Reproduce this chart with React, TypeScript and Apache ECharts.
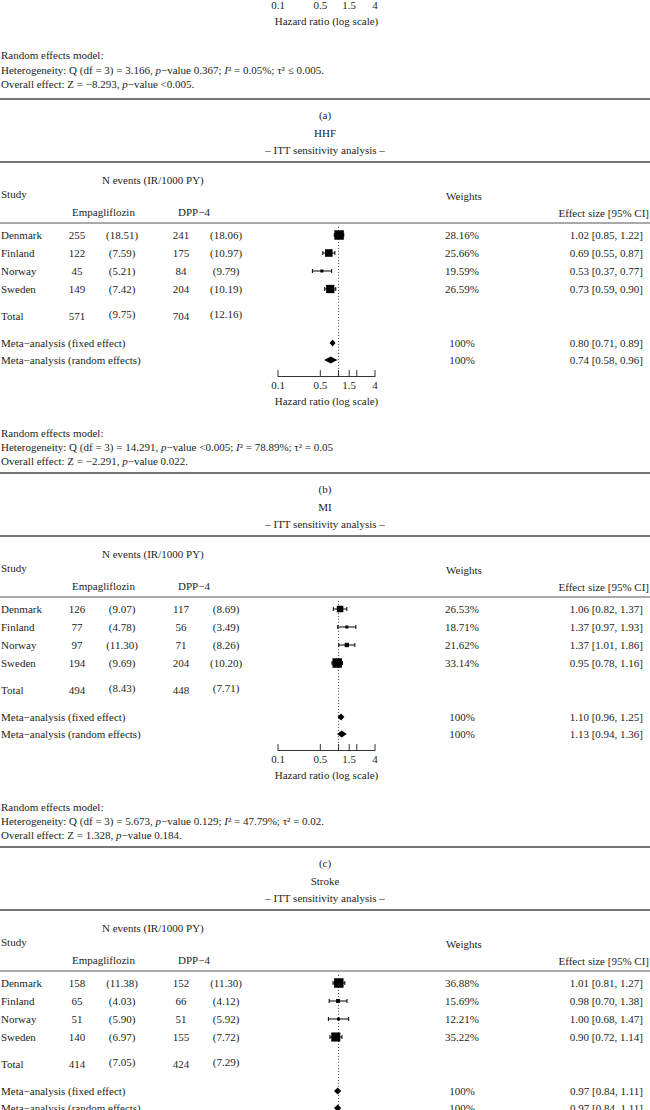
import React, { useEffect, useRef } from 'react';
import * as echarts from 'echarts';

const FONT = '"Liberation Serif", "Times New Roman", serif';
const INK = '#231f20';
const FS = 11;

const countries = ['Denmark', 'Finland', 'Norway', 'Sweden'];
const outcomes = ['HHF', 'MI', 'Stroke'];
const panelLabels = ['(a)', '(b)', '(c)'];

// HHF
const hhfEmpN = [255, 122, 45, 149];
const hhfEmpIR = [18.51, 7.59, 5.21, 7.42];
const hhfDppN = [241, 175, 84, 204];
const hhfDppIR = [18.06, 10.97, 9.79, 10.19];
const hhfTotal = [571, 9.75, 704, 12.16];
const hhfWeights = [28.16, 25.66, 19.59, 26.59];
const hhfHR = [1.02, 0.69, 0.53, 0.73];
const hhfLo = [0.85, 0.55, 0.37, 0.59];
const hhfHi = [1.22, 0.87, 0.77, 0.9];
const hhfFixed = [0.8, 0.71, 0.89];
const hhfRandom = [0.74, 0.58, 0.96];
const hhfHet = 'Heterogeneity: Q (df = 3) = 14.291, {i|p}−value <0.005; {i|I}² = 78.89%; τ² = 0.05';
const hhfOverall = 'Overall effect: Z = −2.291, {i|p}−value 0.022.';

// MI
const miEmpN = [126, 77, 97, 194];
const miEmpIR = [9.07, 4.78, 11.3, 9.69];
const miDppN = [117, 56, 71, 204];
const miDppIR = [8.69, 3.49, 8.26, 10.2];
const miTotal = [494, 8.43, 448, 7.71];
const miWeights = [26.53, 18.71, 21.62, 33.14];
const miHR = [1.06, 1.37, 1.37, 0.95];
const miLo = [0.82, 0.97, 1.01, 0.78];
const miHi = [1.37, 1.93, 1.86, 1.16];
const miFixed = [1.1, 0.96, 1.25];
const miRandom = [1.13, 0.94, 1.36];
const miHet = 'Heterogeneity: Q (df = 3) = 5.673, {i|p}−value 0.129; {i|I}² = 47.79%; τ² = 0.02.';
const miOverall = 'Overall effect: Z = 1.328, {i|p}−value 0.184.';

// Stroke
const stEmpN = [158, 65, 51, 140];
const stEmpIR = [11.38, 4.03, 5.9, 6.97];
const stDppN = [152, 66, 51, 155];
const stDppIR = [11.3, 4.12, 5.92, 7.72];
const stTotal = [414, 7.05, 424, 7.29];
const stWeights = [36.88, 15.69, 12.21, 35.22];
const stHR = [1.01, 0.98, 1.0, 0.9];
const stLo = [0.81, 0.7, 0.68, 0.72];
const stHi = [1.27, 1.38, 1.47, 1.14];
const stFixed = [0.97, 0.84, 1.11];
const stRandom = [0.97, 0.84, 1.11];

// Panel (top, cut) statistics
const topHet = 'Heterogeneity: Q (df = 3) = 3.166, {i|p}−value 0.367; {i|I}² = 0.05%; τ² ≤ 0.005.';
const topOverall = 'Overall effect: Z = −8.293, {i|p}−value <0.005.';

const tickValues = [0.1, 0.5, 1, 1.5, 2, 4];
const tickLabels = ['0.1', '0.5', '', '1.5', '', '4'];

const panels = [
  { empN: hhfEmpN, empIR: hhfEmpIR, dppN: hhfDppN, dppIR: hhfDppIR, total: hhfTotal, w: hhfWeights, hr: hhfHR, lo: hhfLo, hi: hhfHi, fixed: hhfFixed, random: hhfRandom, het: hhfHet, overall: hhfOverall },
  { empN: miEmpN, empIR: miEmpIR, dppN: miDppN, dppIR: miDppIR, total: miTotal, w: miWeights, hr: miHR, lo: miLo, hi: miHi, fixed: miFixed, random: miRandom, het: miHet, overall: miOverall },
  { empN: stEmpN, empIR: stEmpIR, dppN: stDppN, dppIR: stDppIR, total: stTotal, w: stWeights, hr: stHR, lo: stLo, hi: stHi, fixed: stFixed, random: stRandom, het: '', overall: '' },
];

// Layout
const W = 650;
const R = [162, 536, 910];
const ROW0 = 73;
const UNIT = 9;
const studySlots = [0, 2, 4, 6];
const TOTAL_SLOT = 9;
const FIXED_SLOT = 12;
const RANDOM_SLOT = 13.9;
const Y_MIN = -1.3;
const Y_MAX = 15.67;
const slotY = (r: number, s: number) => r + ROW0 + s * UNIT;

const RICH = {
  i: { fontStyle: 'italic', fontFamily: FONT, fontSize: FS, fill: INK, textFill: INK },
};

function txt(x: number, y: number, text: string, align = 'left'): any {
  return {
    type: 'text',
    x,
    y,
    silent: true,
    style: {
      text,
      fill: INK,
      fontFamily: FONT,
      fontSize: FS,
      align,
      verticalAlign: 'middle',
      textAlign: align,
      textVerticalAlign: 'middle',
      rich: RICH,
    },
  };
}

function rule(y: number, thick: boolean): any {
  return {
    type: 'line',
    silent: true,
    shape: { x1: 0, y1: y, x2: W, y2: y },
    style: { stroke: thick ? '#767676' : '#555', lineWidth: thick ? 2 : 1 },
  };
}

const f2 = (v: number) => v.toFixed(2);

function buildGraphics(): any[] {
  const g: any[] = [];
  g.push(txt(1, 55, 'Random effects model:'));
  g.push(txt(1, 70, topHet));
  g.push(txt(1, 84, topOverall));
  panels.forEach((p, k) => {
    const r = R[k];
    g.push(rule(r - 63, true));
    g.push(txt(325, r - 47, panelLabels[k], 'center'));
    g.push(txt(325, r - 29, outcomes[k], 'center'));
    g.push(txt(325, r - 12, '– ITT sensitivity analysis –', 'center'));
    g.push(rule(r, true));
    g.push(txt(102, r + 18, 'N events (IR/1000 PY)'));
    g.push(txt(1, r + 32, 'Study'));
    g.push(txt(464, r + 34, 'Weights', 'center'));
    g.push(txt(72, r + 50, 'Empagliflozin'));
    g.push(txt(178, r + 50, 'DPP−4'));
    g.push(txt(649, r + 51, 'Effect size [95% CI]', 'right'));
    g.push(rule(r + 61, false));
    countries.forEach((c, i) => {
      const y = slotY(r, studySlots[i]);
      g.push(txt(1, y, c));
      g.push(txt(77, y, String(p.empN[i]), 'center'));
      g.push(txt(122, y, `(${f2(p.empIR[i])})`, 'center'));
      g.push(txt(181, y, String(p.dppN[i]), 'center'));
      g.push(txt(226, y, `(${f2(p.dppIR[i])})`, 'center'));
      g.push(txt(462, y, `${f2(p.w[i])}%`, 'center'));
      g.push(txt(643, y, `${f2(p.hr[i])} [${f2(p.lo[i])}, ${f2(p.hi[i])}]`, 'right'));
    });
    const yt = slotY(r, TOTAL_SLOT);
    g.push(txt(1, yt, 'Total'));
    g.push(txt(77, yt, String(p.total[0]), 'center'));
    g.push(txt(122, yt - 2, `(${f2(p.total[1])})`, 'center'));
    g.push(txt(181, yt, String(p.total[2]), 'center'));
    g.push(txt(226, yt - 2, `(${f2(p.total[3])})`, 'center'));
    const yf = slotY(r, FIXED_SLOT);
    g.push(txt(1, yf, 'Meta−analysis (fixed effect)'));
    g.push(txt(462, yf, '100%', 'center'));
    g.push(txt(643, yf, `${f2(p.fixed[0])} [${f2(p.fixed[1])}, ${f2(p.fixed[2])}]`, 'right'));
    const yr = slotY(r, RANDOM_SLOT);
    g.push(txt(1, yr, 'Meta−analysis (random effects)'));
    g.push(txt(462, yr, '100%', 'center'));
    g.push(txt(643, yr, `${f2(p.random[0])} [${f2(p.random[1])}, ${f2(p.random[2])}]`, 'right'));
    if (p.het) {
      g.push(txt(1, r + 271, 'Random effects model:'));
      g.push(txt(1, r + 285, p.het));
      g.push(txt(1, r + 299, p.overall));
    }
  });
  return g;
}

function tickSeries(idx: number, yBottom: number): any {
  return {
    type: 'custom',
    xAxisIndex: idx,
    yAxisIndex: idx,
    silent: true,
    clip: false,
    data: tickValues.map((v) => [v, yBottom]),
    renderItem: (params: any, api: any) => {
      const p = api.coord([api.value(0), api.value(1)]);
      const label = tickLabels[params.dataIndex];
      const children: any[] = [
        { type: 'line', shape: { x1: p[0], y1: p[1], x2: p[0], y2: p[1] - 6 }, style: { stroke: '#333', lineWidth: 1 } },
      ];
      if (label) {
        children.push({
          type: 'text',
          x: p[0],
          y: p[1] + 9,
          style: { text: label, fill: INK, fontFamily: FONT, fontSize: FS, align: 'center', verticalAlign: 'middle', textAlign: 'center', textVerticalAlign: 'middle' },
        });
      }
      return { type: 'group', children };
    },
  };
}

function studySeries(idx: number, p: any): any {
  const wmin = Math.min(...p.w);
  const wmax = Math.max(...p.w);
  return {
    type: 'custom',
    xAxisIndex: idx,
    yAxisIndex: idx,
    silent: true,
    clip: false,
    data: p.hr.map((v: number, i: number) => [v, studySlots[i], p.lo[i], p.hi[i], p.w[i]]),
    renderItem: (params: any, api: any) => {
      const c = api.coord([api.value(0), api.value(1)]);
      const a = api.coord([api.value(2), api.value(1)]);
      const b = api.coord([api.value(3), api.value(1)]);
      const w = api.value(4);
      const s = 3 + ((w - wmin) / (wmax - wmin)) * 6.5;
      const st = { stroke: '#000', lineWidth: 1 };
      return {
        type: 'group',
        children: [
          { type: 'line', shape: { x1: a[0], y1: c[1], x2: b[0], y2: c[1] }, style: st },
          { type: 'line', shape: { x1: a[0], y1: c[1] - 2, x2: a[0], y2: c[1] + 2 }, style: st },
          { type: 'line', shape: { x1: b[0], y1: c[1] - 2, x2: b[0], y2: c[1] + 2 }, style: st },
          { type: 'rect', shape: { x: c[0] - s / 2, y: c[1] - s / 2, width: s, height: s }, style: { fill: '#000' } },
        ],
      };
    },
  };
}

function diamondSeries(idx: number, p: any): any {
  return {
    type: 'custom',
    xAxisIndex: idx,
    yAxisIndex: idx,
    silent: true,
    clip: false,
    data: [
      [p.fixed[0], FIXED_SLOT, p.fixed[1], p.fixed[2]],
      [p.random[0], RANDOM_SLOT, p.random[1], p.random[2]],
    ],
    renderItem: (params: any, api: any) => {
      const c = api.coord([api.value(0), api.value(1)]);
      const a = api.coord([api.value(2), api.value(1)]);
      const b = api.coord([api.value(3), api.value(1)]);
      return {
        type: 'polygon',
        shape: { points: [[a[0], c[1]], [c[0], c[1] - 3.5], [b[0], c[1]], [c[0], c[1] + 3.5]] },
        style: { fill: '#000' },
      };
    },
  };
}

function refLineSeries(idx: number): any {
  return {
    type: 'custom',
    xAxisIndex: idx,
    yAxisIndex: idx,
    silent: true,
    clip: false,
    data: [[1, Y_MAX]],
    renderItem: (params: any, api: any) => {
      const t = api.coord([api.value(0), -0.9]);
      const b = api.coord([api.value(0), api.value(1)]);
      return {
        type: 'line',
        shape: { x1: t[0], y1: t[1], x2: b[0], y2: b[1] },
        style: { stroke: '#444', lineWidth: 1, lineDash: [1, 2] },
      };
    },
  };
}

function xAxisDef(idx: number): any {
  return {
    type: 'log',
    logBase: 10,
    gridIndex: idx,
    min: 0.1,
    max: 4,
    axisLine: { show: true, onZero: false, lineStyle: { color: '#333', width: 1 } },
    axisTick: { show: false },
    axisLabel: { show: false },
    splitLine: { show: false },
    name: 'Hazard ratio (log scale)',
    nameLocation: 'middle',
    nameGap: 19,
    nameTextStyle: { fontFamily: FONT, fontSize: FS, color: INK },
  };
}

function gridDef(top: number, height: number): any {
  return { left: 278, width: 97, top, height, containLabel: false, outerBoundsMode: 'none' };
}

function buildOption(): any {
  const grids: any[] = [gridDef(-40, 36)];
  const xAxes: any[] = [xAxisDef(0)];
  const yAxes: any[] = [{ type: 'value', gridIndex: 0, min: 0, max: 1, inverse: true, show: false }];
  const series: any[] = [tickSeries(0, 1)];
  R.forEach((r, k) => {
    const idx = k + 1;
    grids.push(gridDef(slotY(r, Y_MIN), (Y_MAX - Y_MIN) * UNIT));
    xAxes.push(xAxisDef(idx));
    yAxes.push({ type: 'value', gridIndex: idx, min: Y_MIN, max: Y_MAX, inverse: true, show: false });
    series.push(refLineSeries(idx));
    series.push(tickSeries(idx, Y_MAX));
    series.push(studySeries(idx, panels[k]));
    series.push(diamondSeries(idx, panels[k]));
  });
  return {
    animation: false,
    backgroundColor: '#fff',
    grid: grids,
    xAxis: xAxes,
    yAxis: yAxes,
    series,
    graphic: { elements: buildGraphics() },
  };
}

export default function App() {
  const ref = useRef<HTMLDivElement>(null);
  useEffect(() => {
    const chart = echarts.init(ref.current!, null, { renderer: 'svg', width: 650, height: 1110 });
    chart.setOption(buildOption());
    return () => chart.dispose();
  }, []);
  return (
    <div
      ref={ref}
      style={{ position: 'absolute', left: 0, top: 0, width: 650, height: 1110, background: '#fff' }}
    />
  );
}
